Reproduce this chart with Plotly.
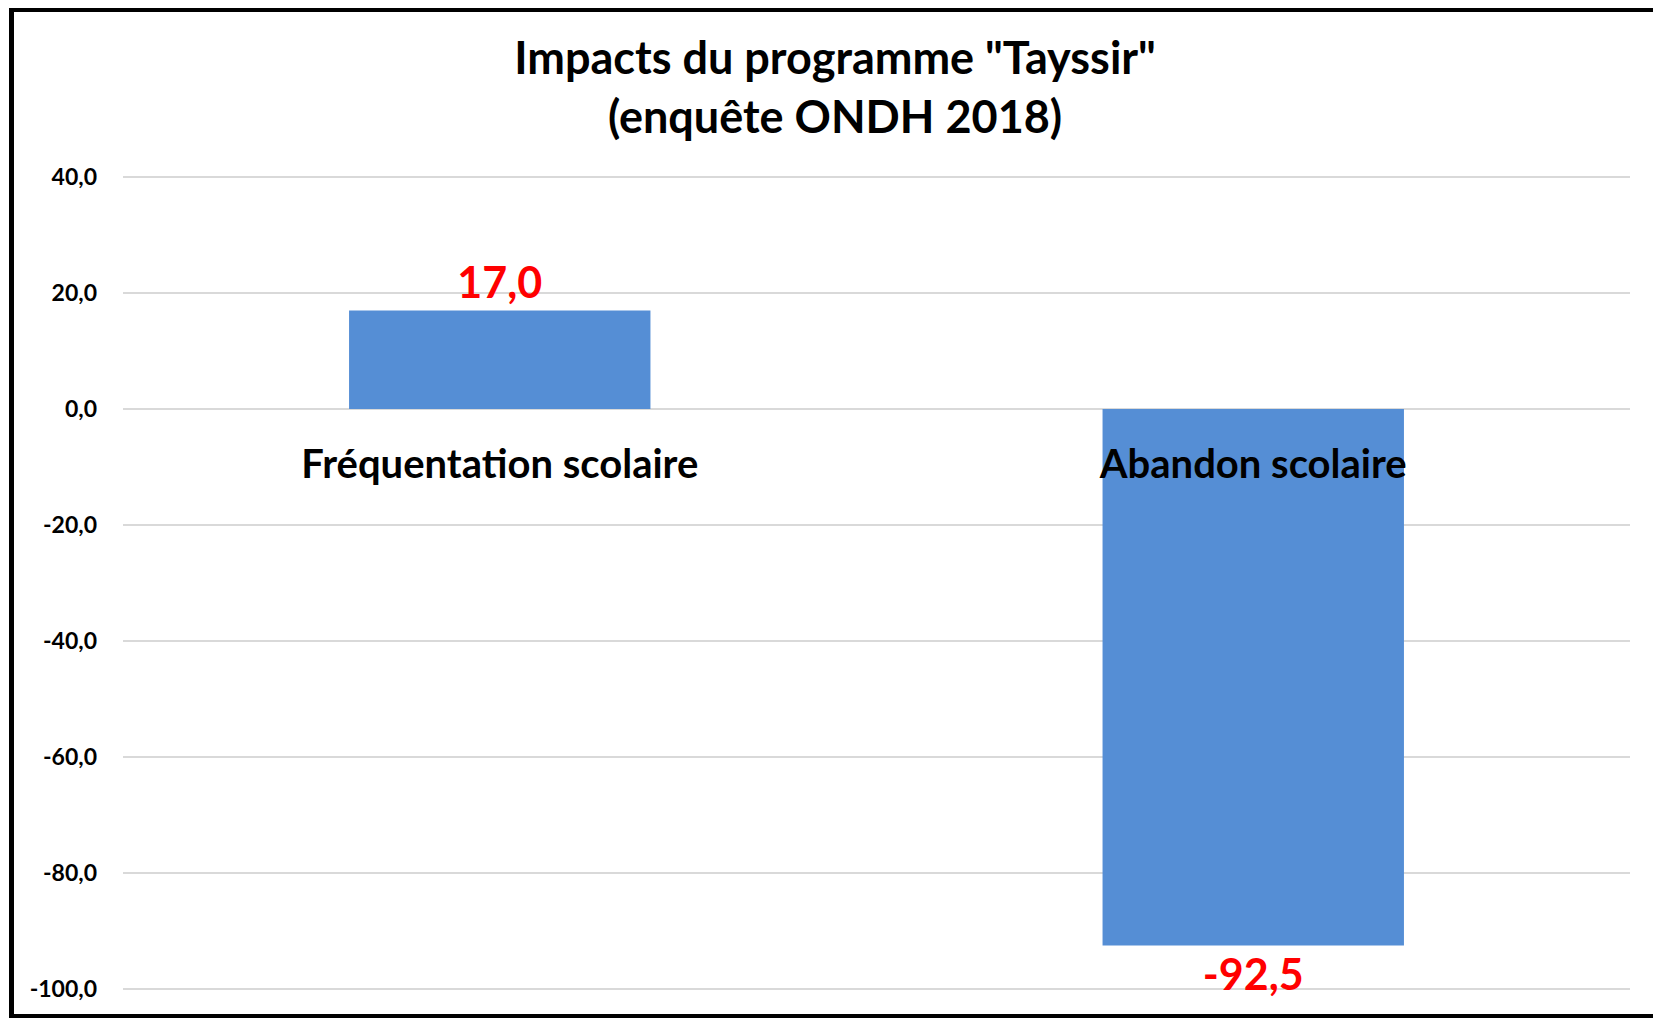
import plotly.graph_objects as go

# chart data
categories = ["Fréquentation scolaire", "Abandon scolaire"]
impacts = [17.0, -92.5]
y_ticks = [40, 20, 0, -20, -40, -60, -80, -100]
y_tick_labels = ["40,0", "20,0", "0,0", "-20,0", "-40,0", "-60,0", "-80,0", "-100,0"]

# page body has an 8px margin, so the figure is a bit smaller than the window
W, H = 1653, 1010
M = dict(l=115, r=31, t=167, b=27)
FONT = "Lato, 'Open Sans', sans-serif"

bar_labels = [f"<b>{v:.1f}</b>".replace(".", ",") for v in impacts]

fig = go.Figure(
    go.Bar(
        x=categories,
        y=impacts,
        marker=dict(color="#558ED5", line=dict(width=0)),
        text=bar_labels,
        textposition="outside",
        cliponaxis=False,
        textfont=dict(color="#FF0000", size=43, family=FONT),
        width=0.4,
    )
)

# frame around the whole chart, in paper units
pw = W - M["l"] - M["r"]
ph = H - M["t"] - M["b"]
def px_x(v):
    return (v - M["l"]) / pw
def px_y(v):
    return (H - M["b"] - v) / ph

fig.add_shape(
    type="rect", xref="paper", yref="paper",
    x0=px_x(3.5), x1=px_x(1651), y0=px_y(1008.5), y1=px_y(1.5),
    line=dict(color="black", width=5), layer="above",
)

# small padding so the 40 and -100 gridlines are drawn
y_min, y_max = -100, 40
pad = 0.35
fig.update_layout(
    width=W, height=H,
    margin=M,
    paper_bgcolor="white",
    plot_bgcolor="white",
    showlegend=False,
    font=dict(family=FONT, color="black"),
    title=dict(
        text="<b>Impacts du programme \"Tayssir\"<br>(enquête ONDH 2018)</b>",
        x=0.4725, xref="paper", xanchor="center",
        y=1 - 66 / H, yref="container", yanchor="top",
        font=dict(size=45, family=FONT, color="black"),
    ),
    xaxis=dict(
        anchor="free",
        position=(0 - (y_min - pad)) / (y_max - y_min + 2 * pad),
        showline=False, showgrid=False, zeroline=False, ticks="",
        ticklabelstandoff=28,
        tickfont=dict(size=40, family=FONT, color="black", weight="bold"),
    ),
    yaxis=dict(
        range=[y_min - pad, y_max + pad],
        tickvals=y_ticks,
        ticktext=y_tick_labels,
        showgrid=True, gridcolor="#D9D9D9", gridwidth=1.5,
        zeroline=False, showline=False, ticks="",
        ticklabelstandoff=25,
        tickfont=dict(size=23, family=FONT, color="black", weight="bold"),
    ),
)

fig.write_html("out.html")
